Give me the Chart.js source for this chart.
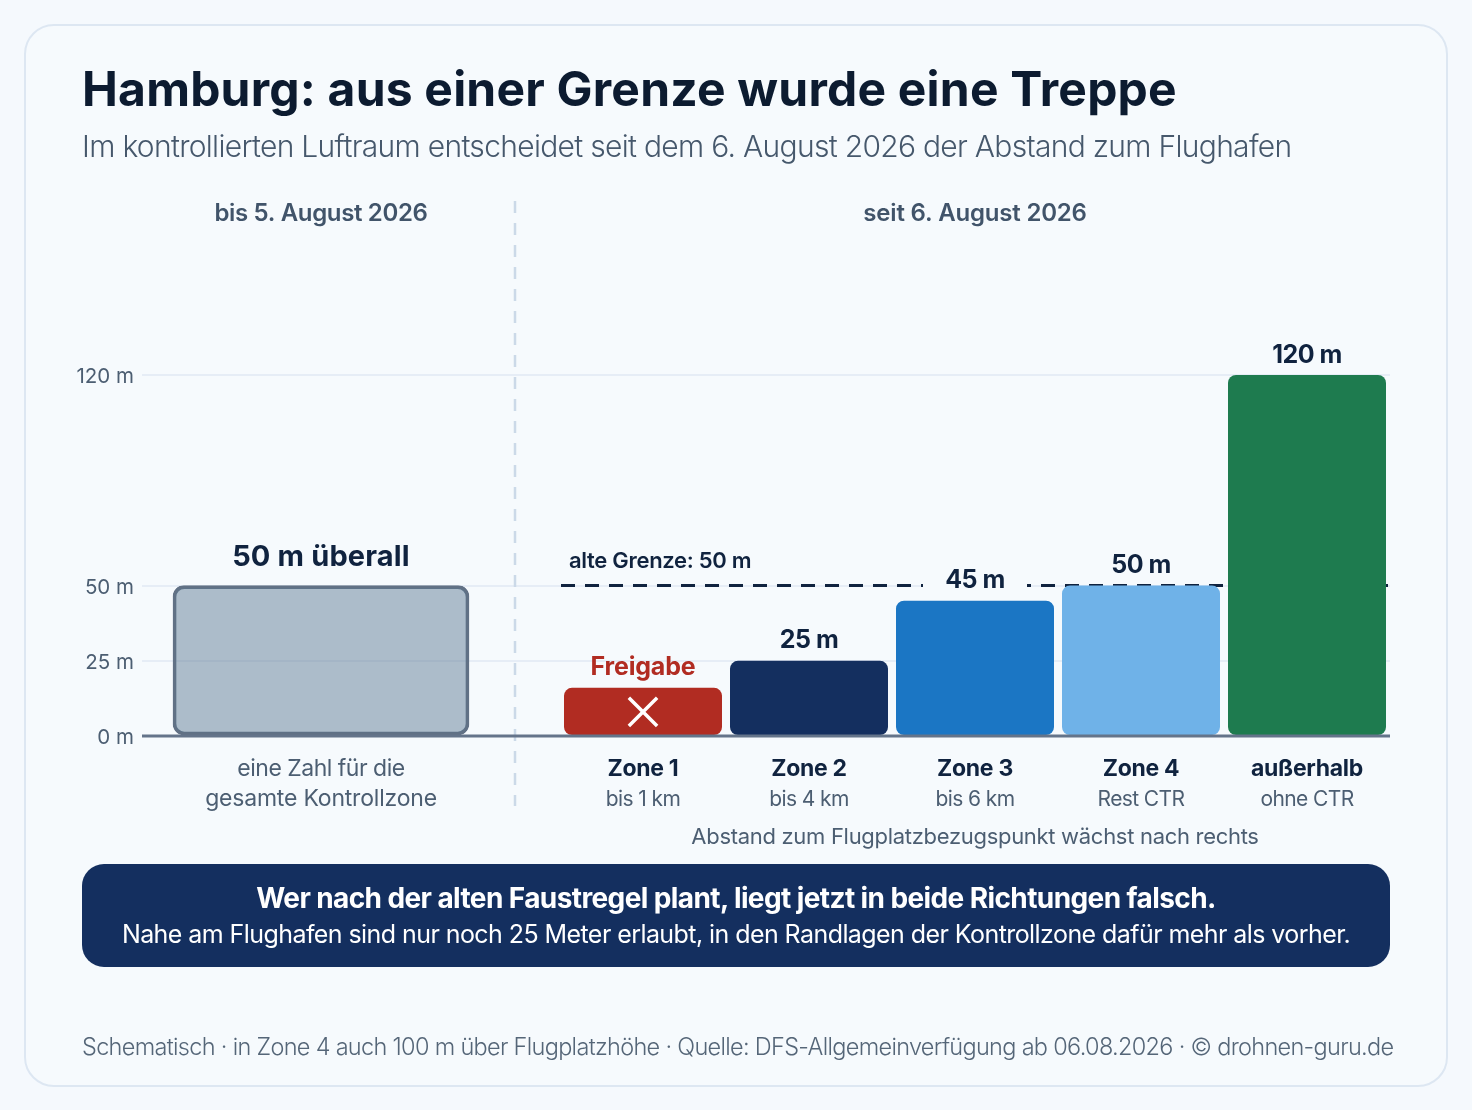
<!DOCTYPE html>
<html lang="de">
<head>
<meta charset="utf-8">
<title>Hamburg: aus einer Grenze wurde eine Treppe</title>
<script src="https://cdn.jsdelivr.net/npm/chart.js@4/dist/chart.umd.min.js"></script>
<style>
html, body { margin: 0; padding: 0; background: #f5f9fd; }
body { width: 1472px; height: 1110px; position: relative; overflow: hidden; font-family: Inter, sans-serif; }
#card { position: absolute; left: 24px; top: 24px; width: 1420px; height: 1059px; border: 2px solid #dde7f2; border-radius: 30px; background: #f6fafd; }
#chart { position: absolute; left: 0; top: 0; }
.txt { position: absolute; white-space: nowrap; line-height: 1; }
#title { left: 82px; top: 65px; font-size: 48px; font-weight: 700; color: #0c1b30; letter-spacing: 0.2px; }
#subtitle { left: 82px; top: 131px; font-size: 30px; font-weight: 300; color: #46586c; letter-spacing: -0.7px; }
#callout { position: absolute; left: 82px; top: 864px; width: 1308px; height: 103px; border-radius: 22px; background: #142f5f; color: #fff; text-align: center; }
#callout .a { position: absolute; left: 0; right: 0; top: 20px; font-size: 28px; font-weight: 700; line-height: 1; letter-spacing: -0.6px; }
#callout .b { position: absolute; left: 0; right: 0; top: 58px; font-size: 25px; font-weight: 400; line-height: 1; letter-spacing: -0.57px; }
#footer { left: 82px; top: 1035px; font-size: 23.5px; font-weight: 300; color: #556678; letter-spacing: -0.69px; }
</style>
</head>
<body>
<div id="card"></div>
<canvas id="chart" width="1472" height="1110"></canvas>
<div class="txt" id="title">Hamburg: aus einer Grenze wurde eine Treppe</div>
<div class="txt" id="subtitle">Im kontrollierten Luftraum entscheidet seit dem 6. August 2026 der Abstand zum Flughafen</div>
<div id="callout">
  <div class="a">Wer nach der alten Faustregel plant, liegt jetzt in beide Richtungen falsch.</div>
  <div class="b">Nahe am Flughafen sind nur noch 25 Meter erlaubt, in den Randlagen der Kontrollzone dafür mehr als vorher.</div>
</div>
<div class="txt" id="footer">Schematisch · in Zone 4 auch 100 m über Flugplatzhöhe · Quelle: DFS-Allgemeinverfügung ab 06.08.2026 · © drohnen-guru.de</div>
<script>
// data
const oldCategories = ['gesamte Kontrollzone'];
const oldValues = [50];
const oldLabels = ['50 m überall'];
const oldNote = ['eine Zahl für die', 'gesamte Kontrollzone'];

const zoneNames = ['Zone 1', 'Zone 2', 'Zone 3', 'Zone 4', 'außerhalb'];
const zoneRanges = ['bis 1 km', 'bis 4 km', 'bis 6 km', 'Rest CTR', 'ohne CTR'];
const zoneValues = [16, 25, 45, 50, 120];
const zoneLabels = ['Freigabe', '25 m', '45 m', '50 m', '120 m'];
const zoneColors = ['#b12c22', '#142f5f', '#1b76c4', '#6fb2e8', '#1e7b4f'];
const crossMarks = [8, null, null, null, null];

const oldLimit = 50;
const yTicks = [0, 25, 50, 120];

const NAVY = '#10233f';
const SLATE = '#4c5e72';

// the two panels sit side by side on one value axis
const panels = { xOld: [142, 500], x: [560, 1390], xLimit: [561, 1388] };
const panelLayout = {
    id: 'panelLayout',
    afterLayout(chart) {
        for (const id in panels) {
            const s = chart.scales[id];
            s.left = panels[id][0];
            s.right = panels[id][1];
            s.width = s.right - s.left;
            s.configure();
        }
    }
};

function label(ctx, text, x, y, font, color, spacing, align) {
    ctx.font = font;
    ctx.fillStyle = color;
    ctx.letterSpacing = (spacing || 0) + 'px';
    ctx.textAlign = align || 'center';
    ctx.textBaseline = 'middle';
    ctx.fillText(text, x, y);
}

const divider = {
    id: 'divider',
    beforeDatasetsDraw(chart) {
        const ctx = chart.ctx;
        ctx.save();
        ctx.strokeStyle = '#cbd9e8';
        ctx.lineWidth = 2.5;
        ctx.setLineDash([12, 10]);
        ctx.beginPath();
        ctx.moveTo(515, 201);
        ctx.lineTo(515, 806);
        ctx.stroke();
        ctx.restore();
    }
};

const annotations = {
    id: 'annotations',
    afterDatasetsDraw(chart) {
        const ctx = chart.ctx;
        const y = chart.scales.y, x = chart.scales.x, xOld = chart.scales.xOld;
        const y0 = y.getPixelForValue(0);
        ctx.save();

        // gap in the dashed line behind the 45 m label
        ctx.fillStyle = '#f6fafd';
        ctx.fillRect(923, y.getPixelForValue(zoneValues[2]) - 36, 104, 30);

        // baseline
        ctx.strokeStyle = '#64748a';
        ctx.lineWidth = 3;
        ctx.beginPath();
        ctx.moveTo(chart.chartArea.left, y0);
        ctx.lineTo(chart.chartArea.right, y0);
        ctx.stroke();

        const oldX = xOld.getPixelForValue(0);
        label(ctx, 'bis 5. August 2026', oldX, 214, '600 24px Inter', '#41546a', -0.35);
        label(ctx, 'seit 6. August 2026', x.getPixelForValue(2), 214, '600 24px Inter', '#41546a', -0.2);
        label(ctx, oldLabels[0], oldX, y.getPixelForValue(oldValues[0]) - 28, '700 29px Inter', NAVY, 0.15);
        label(ctx, oldNote[0], oldX, y0 + 33, '400 23px Inter', SLATE, -0.5);
        label(ctx, oldNote[1], oldX, y0 + 63, '400 23px Inter', SLATE, -0.2);

        label(ctx, 'alte Grenze: 50 m', 569, y.getPixelForValue(oldLimit) - 24, '600 22px Inter', NAVY, -0.3, 'left');

        zoneNames.forEach((name, i) => {
            const cx = x.getPixelForValue(i);
            const top = y.getPixelForValue(zoneValues[i]);
            if (i === 0) {
                label(ctx, zoneLabels[i], cx, top - 20, '700 25px Inter', zoneColors[0], -0.2);
            } else {
                label(ctx, zoneLabels[i], cx, top - 20, '700 25px Inter', NAVY, -0.5);
            }
            label(ctx, name, cx, y0 + 33, '700 23px Inter', NAVY, -0.3);
            label(ctx, zoneRanges[i], cx, y0 + 64, '400 21px Inter', SLATE, -0.6);
        });
        label(ctx, 'Abstand zum Flugplatzbezugspunkt wächst nach rechts', x.getPixelForValue(2), y0 + 101, '400 22px Inter', SLATE, -0.3);
        ctx.restore();
    }
};

new Chart(document.getElementById('chart'), {
    data: {
        datasets: [
            {
                type: 'line',
                xAxisID: 'xLimit',
                data: [{ x: 0, y: oldLimit }, { x: 1, y: oldLimit }],
                borderColor: NAVY,
                borderWidth: 3,
                borderDash: [14, 10],
                pointRadius: 0,
                order: 5
            },
            {
                type: 'bar',
                xAxisID: 'xOld',
                data: oldValues,
                backgroundColor: 'rgba(90,118,145,0.47)',
                borderColor: '#617185',
                borderWidth: 3,
                borderSkipped: false,
                borderRadius: 11,
                barThickness: 296,
                grouped: false,
                order: 2
            },
            {
                type: 'bar',
                xAxisID: 'x',
                data: zoneValues,
                backgroundColor: zoneColors,
                borderWidth: 0,
                borderSkipped: false,
                borderRadius: 8,
                barPercentage: 158 / 166,
                categoryPercentage: 1,
                grouped: false,
                order: 2
            },
            {
                type: 'line',
                xAxisID: 'x',
                data: crossMarks,
                showLine: false,
                pointStyle: 'crossRot',
                pointRadius: 20,
                pointBorderColor: '#ffffff',
                pointBorderWidth: 3.5,
                order: 1
            }
        ]
    },
    options: {
        responsive: false,
        animation: false,
        events: [],
        layout: { padding: { left: 0, right: 82, top: 254.7, bottom: 374 } },
        plugins: { legend: { display: false }, title: { display: false }, tooltip: { enabled: false } },
        scales: {
            x: { type: 'category', labels: zoneNames, display: false, offset: true },
            xOld: { type: 'category', labels: oldCategories, display: false, offset: true },
            xLimit: { type: 'linear', min: 0, max: 1, display: false },
            y: {
                min: 0,
                max: 160,
                afterFit(scale) { scale.width = 142; },
                afterBuildTicks(scale) { scale.ticks = yTicks.map(v => ({ value: v })); },
                border: { display: false },
                grid: { color: '#e6edf6', lineWidth: 2, drawTicks: false },
                ticks: {
                    padding: 8,
                    labelOffset: 2,
                    autoSkip: false,
                    color: SLATE,
                    font: { family: 'Inter', size: 20.5, weight: '400' },
                    callback: v => v + ' m'
                }
            }
        }
    },
    plugins: [panelLayout, divider, annotations]
});
</script>
</body>
</html>
